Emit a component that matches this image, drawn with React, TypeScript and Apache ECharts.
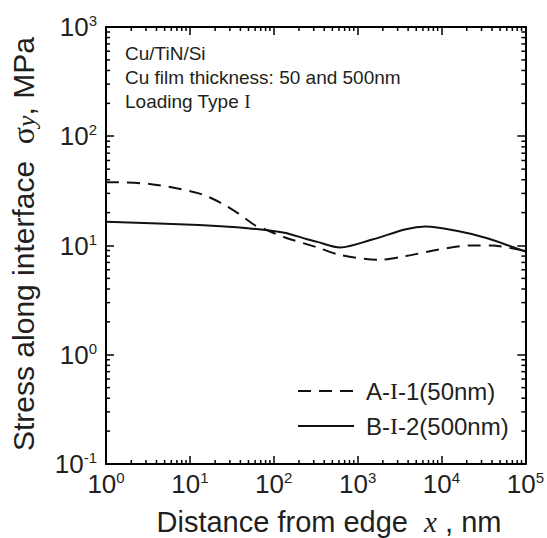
import React, { useEffect, useRef } from "react";
import * as echarts from "echarts";

const X_MIN = 1;
const X_MAX = 100000;
const Y_MIN = 0.1;
const Y_MAX = 1000;

const xA = [1, 3.3, 12.8, 24, 37.7, 59, 78, 134, 330, 617, 1830, 3770, 9330, 22900, 39800, 100000];
const yA = [38, 36.6, 30, 24.3, 19.7, 15.4, 14.1, 11.9, 9.6, 8.2, 7.4, 8.0, 9.2, 10.0, 10.0, 8.9];

const xB = [1, 12.8, 49, 134, 251, 330, 617, 1530, 3770, 6460, 14600, 36000, 100000];
const yB = [16.5, 15.4, 14.4, 13.1, 11.4, 10.8, 9.6, 11.4, 14.1, 14.9, 13.7, 11.6, 8.8];

const seriesNames = ["A-I-1(50nm)", "B-I-2(500nm)"];
const annotationLines = ["Cu/TiN/Si", "Cu film thickness: 50 and 500nm", "Loading Type {r|I}"];

const SANS = "'Liberation Sans', Arial, Helvetica, sans-serif";
const SERIF = "'Liberation Serif', 'Times New Roman', serif";
const INK = "#231f20";

function minorValues(min: number, max: number): number[] {
  const out: number[] = [];
  for (let d = min; d < max; d *= 10) {
    for (let k = 2; k <= 9; k++) out.push(d * k);
  }
  return out;
}

const expLabel = (v: number) => {
  const e = Math.round(Math.log10(v));
  return `{b|10}{s|${e}}`;
};

const labelRich = {
  b: { fontSize: 26, fontFamily: SANS, color: INK, lineHeight: 28 },
  s: { fontSize: 15, fontFamily: SANS, color: INK, verticalAlign: "top", lineHeight: 15 },
};

export default function App() {
  const ref = useRef<HTMLDivElement>(null);
  useEffect(() => {
    if (!ref.current) return;
    const chart = echarts.init(ref.current, null, { renderer: "svg" });
    const xMinor = minorValues(X_MIN, X_MAX);
    const yMinor = minorValues(Y_MIN, Y_MAX);
    const axisLine = { show: true, lineStyle: { color: "#000", width: 2 } };
    const axisTick = { show: true, inside: true, length: 8, lineStyle: { color: "#000", width: 1.5 } };
    chart.setOption({
      animation: false,
      backgroundColor: "#fff",
      grid: { left: 106, right: 16, top: 27, bottom: 74, containLabel: false },
      xAxis: [
        {
          type: "log", logBase: 10, min: X_MIN, max: X_MAX, position: "bottom",
          axisLine, axisTick, splitLine: { show: false }, minorTick: { show: false },
          axisLabel: { formatter: expLabel, rich: labelRich, margin: 6, showMaxLabel: true, showMinLabel: true },
        },
        {
          type: "log", logBase: 10, min: X_MIN, max: X_MAX, position: "top",
          axisLine, axisTick, splitLine: { show: false }, axisLabel: { show: false },
        },
      ],
      yAxis: [
        {
          type: "log", logBase: 10, min: Y_MIN, max: Y_MAX, position: "left",
          axisLine, axisTick, splitLine: { show: false },
          axisLabel: { formatter: expLabel, rich: labelRich, margin: 9 },
        },
        {
          type: "log", logBase: 10, min: Y_MIN, max: Y_MAX, position: "right",
          axisLine, axisTick, splitLine: { show: false }, axisLabel: { show: false },
        },
      ],
      legend: {
        orient: "vertical",
        left: 292,
        top: 373,
        itemWidth: 56,
        itemHeight: 14,
        itemGap: 9,
        data: seriesNames,
        itemStyle: { color: "transparent", borderColor: "transparent", borderWidth: 0 },
        formatter: (n: string) => n.replace("-I-", "-{r|I}-"),
        textStyle: {
          fontSize: 24, lineHeight: 26, fontFamily: SANS, color: INK, padding: [0, 0, 0, 7],
          rich: { r: { fontSize: 24, lineHeight: 26, fontFamily: SERIF, color: INK } },
        },
      },
      graphic: [
        {
          type: "text", left: 125, top: 41,
          style: {
            text: annotationLines.join("\n"), fontSize: 19, lineHeight: 24, fontFamily: SANS, fill: INK,
            rich: { r: { fontSize: 19, fontFamily: SERIF, fill: INK, lineHeight: 24 } },
          },
        },
        {
          type: "text", x: 23, y: 244, rotation: Math.PI / 2,
          style: {
            text: "Stress along interface  {g|σ}{i|y}, MPa", fontSize: 30, fontFamily: SANS, fill: INK,
            align: "center", verticalAlign: "middle",
            rich: {
              g: { fontSize: 32, fontFamily: SERIF, fill: INK },
              i: { fontSize: 26, fontFamily: SERIF, fontStyle: "italic", fill: INK, verticalAlign: "bottom" },
            },
          },
        },
        {
          type: "text", x: 329, y: 522,
          style: {
            text: "Distance from edge  {i|x} , nm", fontSize: 29, fontFamily: SANS, fill: INK,
            align: "center", verticalAlign: "middle",
            rich: { i: { fontSize: 29, fontFamily: SERIF, fontStyle: "italic", fill: INK } },
          },
        },
      ],
      series: [
        {
          name: seriesNames[0], type: "line", smooth: 0.3, symbol: "none",
          data: xA.map((x, i) => [x, yA[i]]),
          lineStyle: { color: "#111", width: 2, type: [13, 8] },
          itemStyle: { color: "#111" },
        },
        {
          name: seriesNames[1], type: "line", smooth: 0.3, symbol: "none",
          data: xB.map((x, i) => [x, yB[i]]),
          lineStyle: { color: "#111", width: 2, type: "solid" },
          itemStyle: { color: "#111" },
        },
        {
          type: "custom", clip: false, silent: true,
          data: xMinor.map((v) => [v, Y_MIN]),
          renderItem: (params: any, api: any) => {
            const v = api.value(0);
            const b = api.coord([v, Y_MIN]);
            const t = api.coord([v, Y_MAX]);
            const st = { stroke: "#000", lineWidth: 1.5 };
            return {
              type: "group",
              children: [
                { type: "line", shape: { x1: b[0], y1: b[1], x2: b[0], y2: b[1] - 4 }, style: st },
                { type: "line", shape: { x1: t[0], y1: t[1], x2: t[0], y2: t[1] + 4 }, style: st },
              ],
            };
          },
        },
        {
          type: "custom", clip: false, silent: true,
          data: yMinor.map((v) => [X_MIN, v]),
          renderItem: (params: any, api: any) => {
            const v = api.value(1);
            const l = api.coord([X_MIN, v]);
            const r = api.coord([X_MAX, v]);
            const st = { stroke: "#000", lineWidth: 1.5 };
            return {
              type: "group",
              children: [
                { type: "line", shape: { x1: l[0], y1: l[1], x2: l[0] + 4, y2: l[1] }, style: st },
                { type: "line", shape: { x1: r[0], y1: r[1], x2: r[0] - 4, y2: r[1] }, style: st },
              ],
            };
          },
        },
      ],
    });
    return () => chart.dispose();
  }, []);
  return (
    <div
      ref={ref}
      style={{ position: "fixed", left: 0, top: 0, width: 547, height: 538, background: "#fff" }}
    />
  );
}
